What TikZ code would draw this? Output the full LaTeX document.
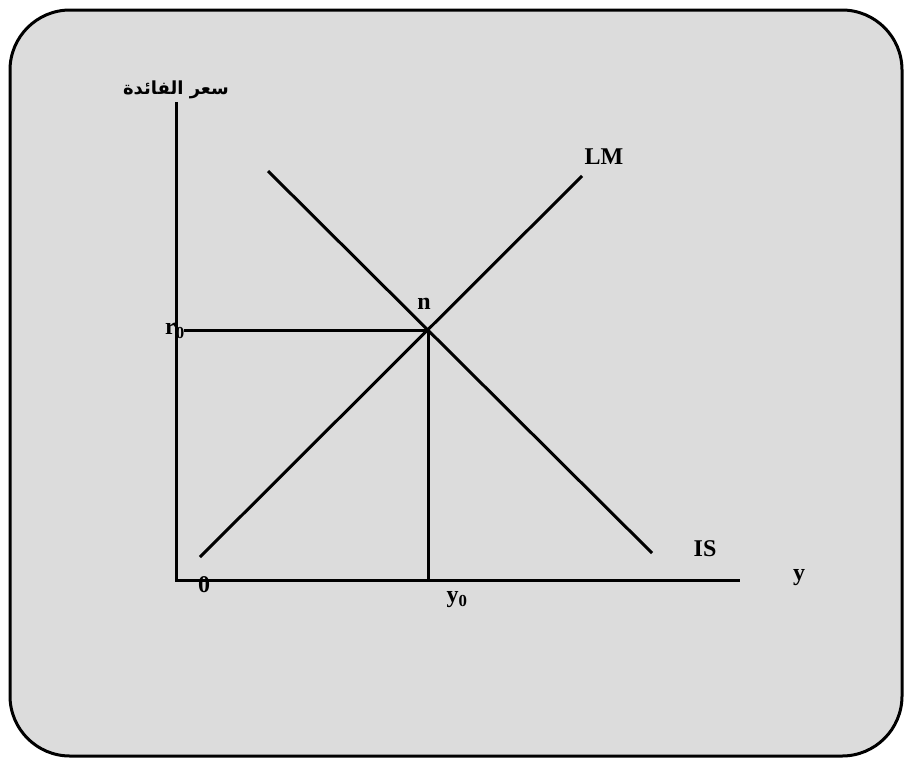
\documentclass[tikz,border=0pt]{standalone}
\usepackage{fontspec}
\setmainfont{Liberation Serif}
\newfontfamily\arabicfont[Script=Arabic]{DejaVu Sans Bold}
\TeXXeTstate=1
\definecolor{panelgray}{HTML}{DCDCDC}
\tikzset{
    curve/.style = {line width=3pt},
    lbl/.style = {font=\fontsize{24}{28}\selectfont\bfseries, inner sep=0pt}
}
\begin{document}
\begin{tikzpicture}[x=1pt, y=-1pt]
            \useasboundingbox (0,0) rectangle (904,758);
            % panel
            \filldraw[
                fill = panelgray,
                draw = black,
                line width = 3pt,
                rounded corners = 60pt
            ]
            (10,10) rectangle (902,756);
            % axes and curves
            \coordinate (top) at (176,102);
            \coordinate (origin) at (176,580);
            \coordinate (right) at (740,580);
            \coordinate (lmlow) at (200,557);
            \coordinate (lmhigh) at (582,176);
            \coordinate (ishigh) at (268,171);
            \coordinate (islow) at (652,553);
            \coordinate (eq) at (428,330);
            \coordinate (rstart) at (184,330);
            \coordinate (yfoot) at (428,580);
            \draw[curve] (top) -- (origin) -- (right);
            \draw[curve] (lmlow) -- (lmhigh);
            \draw[curve] (ishigh) -- (islow);
            \draw[curve] (rstart) -- (eq) -- (yfoot);
            % labels
            \node[inner sep=0pt, font=\fontsize{18}{22}\selectfont] (rate) at (176,90) {\arabicfont\beginR سعر الفائدة\endR};
            \node[lbl] (nlab) at (424,304) {n};
            \node[lbl] (lmlab) at (604,157) {LM};
            \node[lbl] (islab) at (705,549) {IS};
            \node[lbl] (ylab) at (799,578) {y};
            \node[lbl] (zero) at (204,585) {0};
            \node[lbl] (y0lab) at (457,600) {y\textsubscript{0}};
            \node[lbl, anchor=east] (r0lab) at (185,331) {r\textsubscript{0}};
\end{tikzpicture}
\end{document}
